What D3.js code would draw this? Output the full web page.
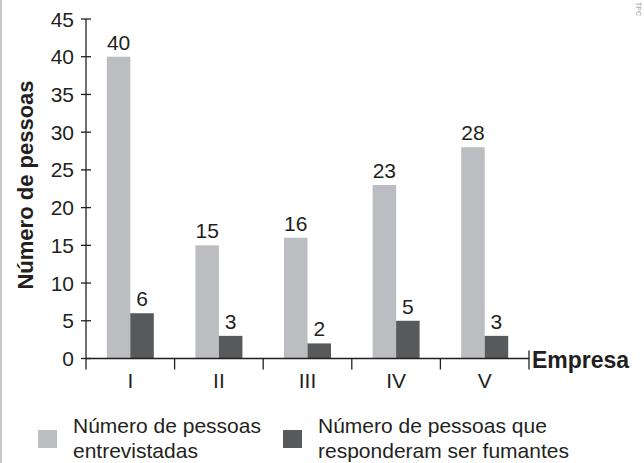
<!DOCTYPE html>
<html>
<head>
<meta charset="utf-8">
<script src="https://cdn.jsdelivr.net/npm/d3@7"></script>
<style>
  body { margin: 0; background: #fff; }
  text { font-family: "Liberation Sans", Arial, sans-serif; fill: #231f20; }
</style>
</head>
<body>
<div id="chart"></div>
<script>
// Data
const empresas = ["I", "II", "III", "IV", "V"]
const entrevistadas = [40, 15, 16, 23, 28]
const fumantes = [6, 3, 2, 5, 3]
const yTicks = [0, 5, 10, 15, 20, 25, 30, 35, 40, 45]
const legendLabels = [
  ["Número de pessoas", "entrevistadas"],
  ["Número de pessoas que", "responderam ser fumantes"]
]
const colors = ["#bcbdc0", "#58595b"]

// Dimensions
const dimensions = { width: 644, height: 463 }
const x0 = 86, x1 = 529, yTop = 19, yBase = 358.5
const fs = 21

const svg = d3.select("#chart")
  .append("svg")
  .attr("width", dimensions.width)
  .attr("height", dimensions.height)

// left frame line
svg.append("line")
  .attr("x1", 1).attr("x2", 1)
  .attr("y1", 0).attr("y2", dimensions.height)
  .attr("stroke", "#c8c8ca").attr("stroke-width", 2)

const xScale = d3.scaleBand()
  .domain(empresas)
  .range([x0, x1])

const yScale = d3.scaleLinear()
  .domain([0, 45])
  .range([yBase, yTop])

const barW = 23.5

// bars
const groups = svg.append("g")
  .selectAll("g")
  .data(empresas)
  .join("g")
  .attr("transform", d => `translate(${xScale(d) + xScale.bandwidth() / 2}, 0)`)

groups.append("rect")
  .attr("x", -barW)
  .attr("width", barW)
  .attr("y", (d, i) => yScale(entrevistadas[i]))
  .attr("height", (d, i) => yBase - yScale(entrevistadas[i]))
  .attr("fill", colors[0])

groups.append("rect")
  .attr("x", 0)
  .attr("width", barW)
  .attr("y", (d, i) => yScale(fumantes[i]))
  .attr("height", (d, i) => yBase - yScale(fumantes[i]))
  .attr("fill", colors[1])

groups.append("text")
  .attr("x", -barW / 2)
  .attr("y", (d, i) => yScale(entrevistadas[i]) - 7)
  .attr("text-anchor", "middle")
  .attr("font-size", fs)
  .text((d, i) => entrevistadas[i])

groups.append("text")
  .attr("x", barW / 2)
  .attr("y", (d, i) => yScale(fumantes[i]) - 7)
  .attr("text-anchor", "middle")
  .attr("font-size", fs)
  .text((d, i) => fumantes[i])

// y axis
const yAxis = svg.append("g")
yAxis.append("line")
  .attr("x1", x0).attr("x2", x0)
  .attr("y1", yTop).attr("y2", yBase)
  .attr("stroke", "#231f20").attr("stroke-width", 1.3)

yAxis.selectAll(".tick")
  .data(yTicks)
  .join("line")
  .attr("x1", x0 - 5).attr("x2", x0 + 5)
  .attr("y1", d => yScale(d)).attr("y2", d => yScale(d))
  .attr("stroke", "#231f20").attr("stroke-width", 1.3)

yAxis.selectAll("text")
  .data(yTicks)
  .join("text")
  .attr("x", 74)
  .attr("y", d => yScale(d))
  .attr("dy", "0.36em")
  .attr("text-anchor", "end")
  .attr("font-size", fs)
  .text(d => d)

// x axis
const xAxis = svg.append("g")
xAxis.append("line")
  .attr("x1", x0).attr("x2", x1)
  .attr("y1", yBase).attr("y2", yBase)
  .attr("stroke", "#231f20").attr("stroke-width", 1.3)

const xTickPos = empresas.map(d => xScale(d)).concat([x1])
xAxis.selectAll(".tick")
  .data(xTickPos)
  .join("line")
  .attr("x1", d => d).attr("x2", d => d)
  .attr("y1", (d, i) => i === xTickPos.length - 1 ? yBase - 8 : yBase)
  .attr("y2", yBase + 11)
  .attr("stroke", "#231f20").attr("stroke-width", 1.3)

xAxis.selectAll("text")
  .data(empresas)
  .join("text")
  .attr("x", d => xScale(d) + xScale.bandwidth() / 2)
  .attr("y", 388)
  .attr("text-anchor", "middle")
  .attr("font-size", fs)
  .text(d => d)

svg.append("text")
  .attr("x", 532)
  .attr("y", 368)
  .attr("font-size", 23)
  .attr("font-weight", "bold")
  .text("Empresa")

svg.append("text")
  .attr("transform", "translate(33, 185) rotate(-90)")
  .attr("text-anchor", "middle")
  .attr("font-size", 22)
  .attr("font-weight", "bold")
  .text("Número de pessoas")

// legend
const legendPos = [{ x: 38, tx: 73 }, { x: 283, tx: 318 }]
const legend = svg.append("g")
  .selectAll("g")
  .data(legendLabels)
  .join("g")

legend.append("rect")
  .attr("x", (d, i) => legendPos[i].x)
  .attr("y", 430)
  .attr("width", 19)
  .attr("height", 18)
  .attr("fill", (d, i) => colors[i])

legend.append("text")
  .attr("x", (d, i) => legendPos[i].tx)
  .attr("y", 433)
  .attr("font-size", fs)
  .text(d => d[0])

legend.append("text")
  .attr("x", (d, i) => legendPos[i].tx)
  .attr("y", 458)
  .attr("font-size", fs)
  .text(d => d[1])

// credit (tiny rotated text at top right)
svg.append("text")
  .attr("transform", "translate(636, 2) rotate(90)")
  .attr("font-size", 7)
  .style("fill", "#999")
  .text("TPC")
</script>
</body>
</html>
